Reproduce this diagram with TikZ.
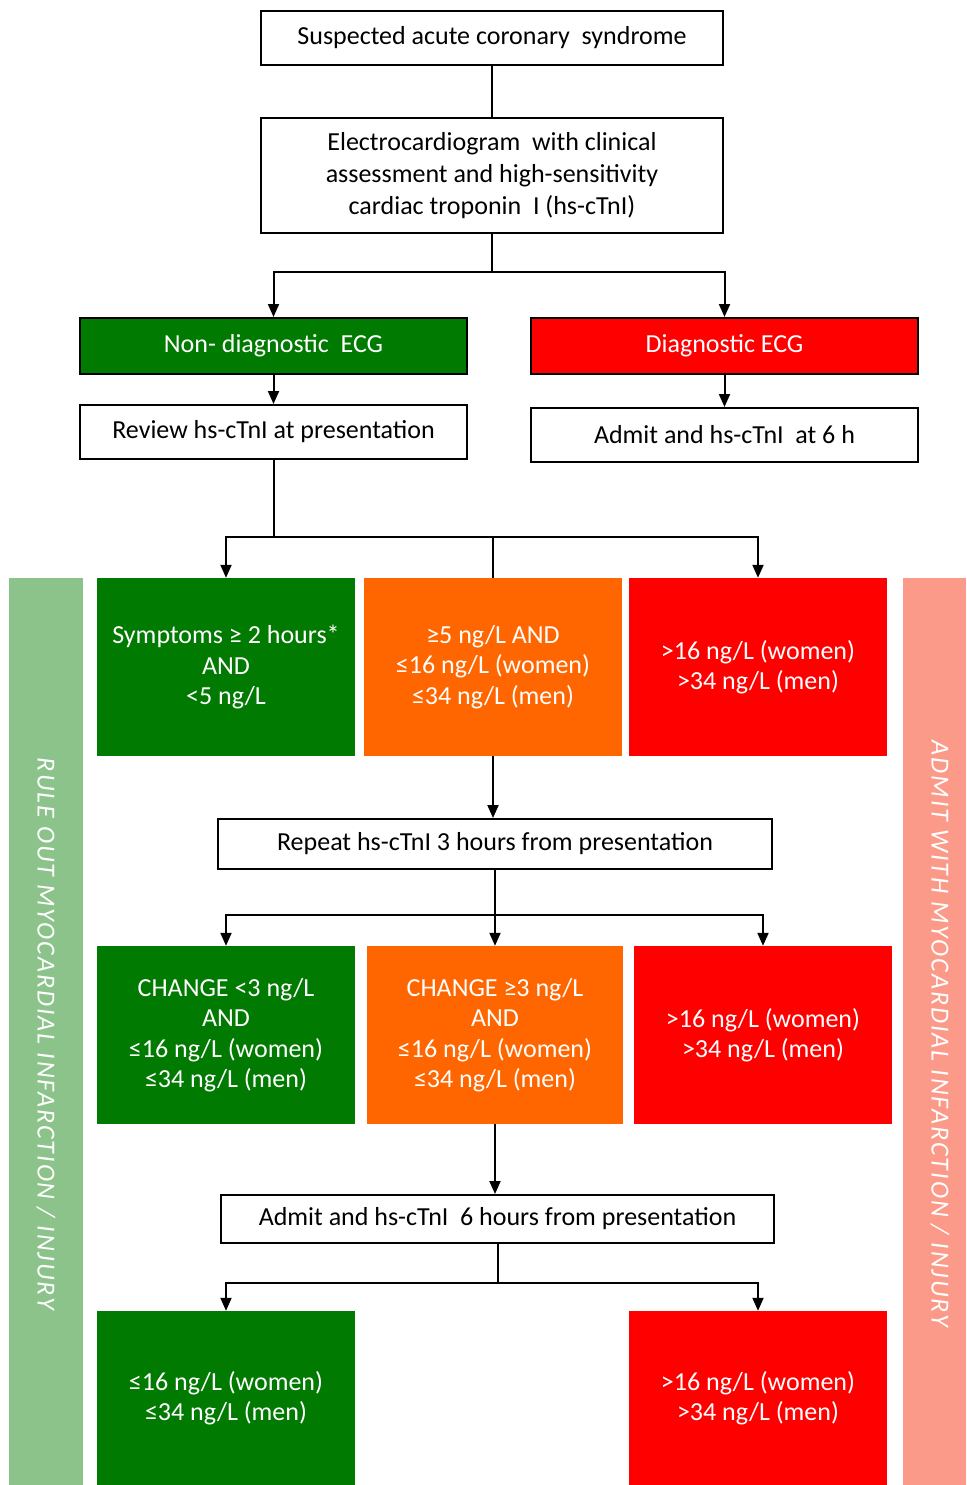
\documentclass[tikz,border=0pt]{standalone}
\usepackage{fontspec}
\setmainfont{Carlito}
\newfontfamily\barfont[LetterSpace=7.6]{Carlito}
\usetikzlibrary{arrows.meta}
\definecolor{cgreen}{RGB}{0,122,0}
\definecolor{corange}{RGB}{255,102,0}
\definecolor{cred}{RGB}{255,0,0}
\definecolor{lgreen}{RGB}{139,195,138}
\definecolor{lred}{RGB}{252,154,138}
\tikzset{
  wbox/.style={draw=black, line width=2pt, fill=white, align=center, inner sep=0pt,
    font=\fontsize{26}{32}\selectfont},
  cbox/.style={draw=none, align=center, inner sep=0pt, text=white,
    font=\fontsize{26}{30.5}\selectfont},
  conn/.style={line width=2pt},
  arr/.style={line width=2pt, -{Triangle[length=13pt,width=11pt]}},
  bartext/.style={rotate=-90, text=white, font=\barfont\itshape\fontsize{26}{26}\selectfont}
}
\begin{document}
\begin{tikzpicture}[x=1pt,y=-1pt]
\useasboundingbox (0,0) rectangle (966,1485);
% side bars
\node[fill=lgreen, minimum width=74pt, minimum height=907pt, inner sep=0pt] (barL) at (46,1031.5) {};
\node[fill=lred, minimum width=63pt, minimum height=907pt, inner sep=0pt] (barR) at (934.5,1031.5) {};
\node[bartext] (barLt) at (46,1034) {RULE OUT MYOCARDIAL INFARCTION / INJURY};
\node[bartext] (barRt) at (940,1034) {ADMIT WITH MYOCARDIAL INFARCTION / INJURY};
% top boxes
\node[wbox, minimum width=462pt, minimum height=54pt] (b1) at (492,38) {Suspected acute coronary~ syndrome};
\node[wbox, minimum width=462pt, minimum height=115pt] (b2) at (492,175.5)
  {Electrocardiogram~ with clinical\\assessment and high-sensitivity\\cardiac troponin~ I (hs-cTnI)};
\node[wbox, fill=cgreen, text=white, minimum width=387pt, minimum height=56pt] (nd) at (273.5,346) {Non- diagnostic~ ECG};
\node[wbox, fill=cred, text=white, minimum width=387pt, minimum height=56pt] (dg) at (724.5,346) {Diagnostic ECG};
\node[wbox, minimum width=387pt, minimum height=54pt] (rv) at (273.5,432) {Review hs-cTnI at presentation};
\node[wbox, minimum width=387pt, minimum height=54pt] (ad) at (724.5,435) {Admit and hs-cTnI~ at 6 h};
% row 1
\node[cbox, fill=cgreen, minimum width=258pt, minimum height=178pt] (g1) at (226,667)
  {Symptoms ≥ 2 hours*\\AND\\<5 ng/L};
\node[cbox, fill=corange, minimum width=258pt, minimum height=178pt] (o1) at (493,667)
  {≥5 ng/L AND\\≤16 ng/L (women)\\≤34 ng/L (men)};
\node[cbox, fill=cred, minimum width=258pt, minimum height=178pt] (r1) at (758,667)
  {>16 ng/L (women)\\>34 ng/L (men)};
\node[wbox, minimum width=554pt, minimum height=50pt] (rp) at (495,844) {Repeat hs-cTnI 3 hours from presentation};
% row 2
\node[cbox, fill=cgreen, minimum width=258pt, minimum height=178pt] (g2) at (226,1035)
  {CHANGE <3 ng/L\\AND\\≤16 ng/L (women)\\≤34 ng/L (men)};
\node[cbox, fill=corange, minimum width=256pt, minimum height=178pt] (o2) at (495,1035)
  {CHANGE ≥3 ng/L\\AND\\≤16 ng/L (women)\\≤34 ng/L (men)};
\node[cbox, fill=cred, minimum width=258pt, minimum height=178pt] (r2) at (763,1035)
  {>16 ng/L (women)\\>34 ng/L (men)};
\node[wbox, minimum width=553pt, minimum height=48pt] (a6) at (497.5,1219) {Admit and hs-cTnI~ 6 hours from presentation};
% row 3
\node[cbox, fill=cgreen, minimum width=258pt, minimum height=174pt] (g3) at (226,1398)
  {≤16 ng/L (women)\\≤34 ng/L (men)};
\node[cbox, fill=cred, minimum width=258pt, minimum height=174pt] (r3) at (758,1398)
  {>16 ng/L (women)\\>34 ng/L (men)};
% junctions
\coordinate (j1) at (492,272);
\coordinate (j2) at (273.5,537);
\coordinate (j3) at (495,915);
\coordinate (j4) at (497.5,1283);
% connectors
\draw[conn] (b1) -- (b2);
\draw[conn] (b2) -- (j1);
\draw[arr] (j1) -| (nd);
\draw[arr] (j1) -| (dg);
\draw[arr] (nd) -- (rv);
\draw[arr] (dg) -- (ad);
\draw[conn] (rv) -- (j2);
\draw[arr] (j2) -| (g1);
\draw[arr] (j2) -| (r1);
\draw[conn] (o1.north) -- (o1.north |- j2);
\draw[arr] (o1.south) -- (o1.south |- rp.north);
\draw[conn] (rp) -- (j3);
\draw[arr] (j3) -| (g2);
\draw[arr] (j3) -- (o2);
\draw[arr] (j3) -| (r2);
\draw[arr] (o2.south) -- (o2.south |- a6.north);
\draw[conn] (a6) -- (j4);
\draw[arr] (j4) -| (g3);
\draw[arr] (j4) -| (r3);
\end{tikzpicture}
\end{document}
